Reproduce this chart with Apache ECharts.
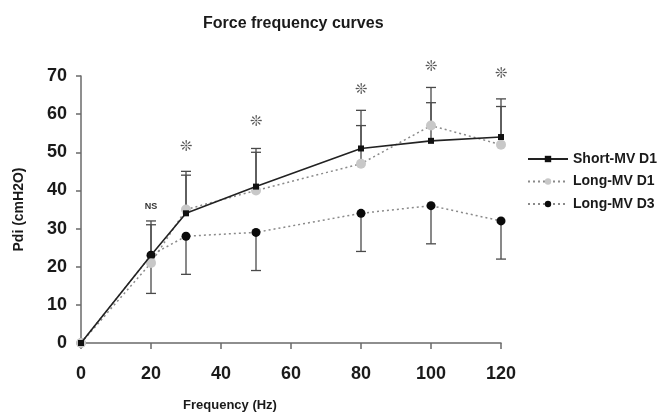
<!DOCTYPE html>
<html>
<head>
<meta charset="utf-8">
<script src="https://cdn.jsdelivr.net/npm/echarts@6/dist/echarts.min.js"></script>
<style>
html,body{margin:0;padding:0;background:#fff;}
#chart{width:664px;height:418px;}
</style>
</head>
<body>
<div id="chart"></div>
<script>
// Data
var frequency = [0, 20, 30, 50, 80, 100, 120];
var shortD1 = [0, 23, 34, 41, 51, 53, 54];
var shortD1Upper = [null, 32, 45, 51, 61, 63, 64];
var longD1 = [0, 21, 35, 40, 47, 57, 52];
var longD1Upper = [null, 31, 44, 50, 57, 67, 62];
var longD3 = [0, 23, 28, 29, 34, 36, 32];
var longD3Lower = [null, 13, 18, 19, 24, 26, 22];
var markFreq = [20, 30, 50, 80, 100, 120];
var markText = ['NS', '❊', '❊', '❊', '❊', '❊'];
var markY = [35.7, 51.4, 58, 66.3, 72.4, 70.4];
var seriesNames = ['Short-MV D1', 'Long-MV D1', 'Long-MV D3'];

function pairs(xs, ys) {
  var out = [];
  for (var i = 0; i < xs.length; i++) out.push([xs[i], ys[i]]);
  return out;
}
function errPairs(xs, ys, ends) {
  var out = [];
  for (var i = 0; i < xs.length; i++) if (ends[i] != null) out.push([xs[i], ys[i], ends[i]]);
  return out;
}
function errRender(params, api) {
  var p0 = api.coord([api.value(0), api.value(1)]);
  var p1 = api.coord([api.value(0), api.value(2)]);
  var w = 5;
  var st = {stroke: '#4a4a4a', lineWidth: 1.3};
  return {
    type: 'group',
    children: [
      {type: 'line', shape: {x1: p0[0], y1: p0[1], x2: p1[0], y2: p1[1]}, style: st},
      {type: 'line', shape: {x1: p1[0] - w, y1: p1[1], x2: p1[0] + w, y2: p1[1]}, style: st}
    ]
  };
}
var marks = [];
for (var i = 0; i < markFreq.length; i++) marks.push([markFreq[i], markY[i], markText[i]]);

var chart = echarts.init(document.getElementById('chart'));
chart.setOption({
  backgroundColor: '#fff',
  animation: false,
  title: {
    text: 'Force frequency curves',
    left: 198, top: 11,
    textStyle: {fontFamily: 'Liberation Sans', fontWeight: 'bold', fontSize: 16, color: '#1a1a1a'}
  },
  legend: {
    orient: 'vertical',
    left: 527, top: 152, padding: 0,
    itemWidth: 40, itemHeight: 8, itemGap: 8.5,
    data: seriesNames,
    textStyle: {fontFamily: 'Liberation Sans', fontWeight: 'bold', fontSize: 14, color: '#1a1a1a'}
  },
  grid: {left: 81, right: 163, top: 76, bottom: 75},
  xAxis: {
    type: 'value', min: 0, max: 120, interval: 20,
    name: 'Frequency (Hz)', nameLocation: 'middle', nameGap: 56,
    nameTextStyle: {fontFamily: 'Liberation Sans', fontWeight: 'bold', fontSize: 13, color: '#1a1a1a', padding: [0, 122, 0, 0]},
    axisLine: {lineStyle: {color: '#6a6a6a', width: 1.5}},
    axisTick: {inside: false, length: 6, lineStyle: {color: '#6a6a6a', width: 1.5}},
    axisLabel: {margin: 22, fontFamily: 'Liberation Sans', fontWeight: 'bold', fontSize: 18, color: '#1a1a1a'},
    splitLine: {show: false}
  },
  yAxis: {
    type: 'value', min: 0, max: 70, interval: 10,
    name: 'Pdi (cmH2O)', nameLocation: 'middle', nameGap: 55,
    nameTextStyle: {fontFamily: 'Liberation Sans', fontWeight: 'bold', fontSize: 14, color: '#1a1a1a'},
    axisLine: {show: true, lineStyle: {color: '#6a6a6a', width: 1.5}},
    axisTick: {show: true, inside: false, length: 5, lineStyle: {color: '#6a6a6a', width: 1.5}},
    axisLabel: {margin: 14, fontFamily: 'Liberation Sans', fontWeight: 'bold', fontSize: 18, color: '#1a1a1a'},
    splitLine: {show: false}
  },
  series: [
    {type: 'custom', renderItem: errRender, data: errPairs(frequency, shortD1, shortD1Upper), z: 1, silent: true},
    {type: 'custom', renderItem: errRender, data: errPairs(frequency, longD1, longD1Upper), z: 1, silent: true},
    {type: 'custom', renderItem: errRender, data: errPairs(frequency, longD3, longD3Lower), z: 1, silent: true},
    {
      name: 'Long-MV D3', type: 'line', data: pairs(frequency, longD3), z: 2,
      symbol: 'circle', symbolSize: 9,
      lineStyle: {color: '#8a8a8a', width: 1.5, type: [2, 3]},
      itemStyle: {color: '#0a0a0a'}
    },
    {
      name: 'Long-MV D1', type: 'line', data: pairs(frequency, longD1), z: 3,
      symbol: 'circle', symbolSize: 10,
      lineStyle: {color: '#8a8a8a', width: 1.5, type: [2, 3]},
      itemStyle: {color: '#c8c8c8'}
    },
    {
      name: 'Short-MV D1', type: 'line', data: pairs(frequency, shortD1), z: 4,
      symbol: 'rect', symbolSize: 6,
      lineStyle: {color: '#222', width: 1.6},
      itemStyle: {color: '#111'}
    },
    {
      type: 'custom', data: marks, z: 5, silent: true, clip: false,
      renderItem: function (params, api) {
        var p = api.coord([api.value(0), api.value(1)]);
        var t = marks[params.dataIndex][2];
        var isNS = t === 'NS';
        return {
          type: 'text',
          style: {
            text: t, x: p[0], y: p[1], align: 'center', verticalAlign: 'middle',
            fill: isNS ? '#333' : '#555',
            font: isNS ? 'bold 9px "Liberation Sans"' : '15px "DejaVu Sans"'
          }
        };
      }
    }
  ]
});
</script>
</body>
</html>
